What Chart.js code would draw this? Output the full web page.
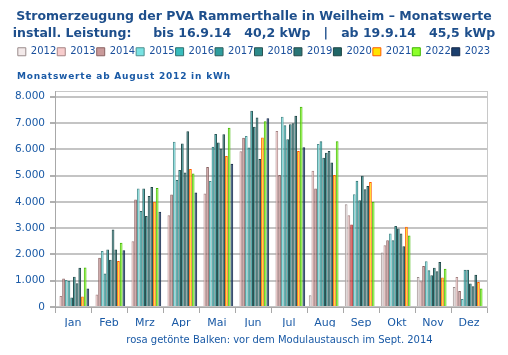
<!DOCTYPE html>
<html><head><meta charset="utf-8">
<script src="https://cdn.jsdelivr.net/npm/chart.js@4"></script>
<style>html,body{margin:0;padding:0;background:#fff;}</style>
</head><body>
<canvas id="c" width="508" height="355"></canvas>
<script>
const months = ['Jan','Feb','Mrz','Apr','Mai','Jun','Jul','Aug','Sep','Okt','Nov','Dez'];
const years = ['2012','2013','2014','2015','2016','2017','2018','2019','2020','2021','2022','2023'];
const v2012 = [null,null,null,null,null,null,null,450,3910,2070,1140,760];
const v2013 = [420,480,2500,3490,4320,5930,6700,5180,3490,2350,980,1140];
const v2014 = [1080,1870,4090,4280,5330,6440,5020,4510,3140,2540,1560,610];
const v2015 = [1030,2130,4510,6290,4790,6510,7240,6200,4290,2800,1740,300];
const v2016 = [1000,1270,3650,4830,6100,6070,6920,6310,4800,2540,1400,1420];
const v2017 = [360,2190,4510,5210,6580,7470,6380,5680,4060,3080,1210,1420];
const v2018 = [1150,1800,3460,6220,6260,6860,6950,5870,4990,2990,1490,890];
const v2019 = [900,2950,4220,5120,6030,7210,6990,5940,4480,2800,1360,790];
const v2020 = [1490,2190,4570,6690,6570,5630,7280,5500,4600,2310,1710,1230];
const v2021 = [400,1750,4000,5250,5750,6450,5940,5020,4760,3050,1120,950];
const v2022 = [1500,2440,4530,5080,6820,7070,7620,6310,4000,2720,1460,700];
const v2023 = [700,2160,3620,4360,5450,7180,6080,null,null,null,null,null];
const seriesValues = [v2012,v2013,v2014,v2015,v2016,v2017,v2018,v2019,v2020,v2021,v2022,v2023];
const yTickValues = [0,1000,2000,3000,4000,5000,6000,7000,8000];

const titleLines = ['Stromerzeugung der PVA Rammerthalle in Weilheim \u2013 Monatswerte',
  'install. Leistung:\u00a0\u00a0\u00a0\u00a0\u00a0bis 16.9.14\u00a0\u00a0\u00a040,2 kWp\u00a0\u00a0\u00a0|\u00a0\u00a0\u00a0ab 19.9.14\u00a0\u00a0\u00a045,5 kWp'];
const subtitleText = 'Monatswerte ab August 2012 in kWh';
const noteText = 'rosa get\u00f6nte Balken: vor dem Modulaustausch im Sept. 2014';

const fills = ['#f3eaea','#f7cccc','#c99a9a','#78e2e2','#38bcbc','#2f9d9d','#2d8a8a','#2a7676','#206666','#ffe400','#8cff2a','#1b3f6e'];
const borders = ['#9a8c8c','#a68484','#8a6262','#4f8f8f','#2f6f6f','#2d5c5c','#2a5252','#264a4a','#1d4444','#ff5a00','#3fb400','#15294a'];
const exchangeMonth = 8; // Sept 2014 bar (module exchange)

const BLUE = '#1a5aa6';
const TITLE_BLUE = '#1e4f8c';

function fmt(v){
  if (v >= 1000) return Math.floor(v/1000) + '.' + String(v % 1000).padStart(3,'0');
  return String(v);
}

const datasets = years.map((y, i) => {
  let bg = fills[i], bd = borders[i];
  if (y === '2014') {
    bg = months.map((m, k) => k === exchangeMonth ? '#e04848' : fills[i]);
    bd = months.map((m, k) => k === exchangeMonth ? '#a83030' : borders[i]);
  }
  return {
    label: y, data: seriesValues[i],
    backgroundColor: bg, borderColor: bd, borderWidth: 1,
    categoryPercentage: 0.9, barPercentage: 1.0
  };
});

const textPlugin = {
  id: 'texts',
  afterDraw(chart){
    const ctx = chart.ctx;
    ctx.save();
    ctx.fillStyle = BLUE;
    ctx.textBaseline = 'middle';
    ctx.textAlign = 'left';
    ctx.font = 'bold 9px "DejaVu Sans"';
    try { ctx.letterSpacing = '0.8px'; } catch(e) {}
    ctx.fillText(subtitleText, 17, 77);
    try { ctx.letterSpacing = '0px'; } catch(e) {}
    ctx.font = '10px "DejaVu Sans"';
    ctx.textAlign = 'center';
    ctx.fillText(noteText, 279.5, 340);
    ctx.restore();
  }
};

Chart.defaults.font.family = '"DejaVu Sans"';
new Chart(document.getElementById('c'), {
  type: 'bar',
  data: { labels: months, datasets },
  options: {
    responsive: false, animation: false, devicePixelRatio: 1,
    layout: { padding: { left: 0, right: 0, top: 0, bottom: 28 } },
    plugins: {
      title: { display: true, text: titleLines, color: TITLE_BLUE,
        font: { size: 12.5, weight: 'bold', lineHeight: 1.35 }, padding: { top: 8, bottom: 4 } },
      legend: { display: true, position: 'top',
        labels: { boxWidth: 8, boxHeight: 8, padding: 1, color: '#1a4f9c', font: { size: 10 } } },
      tooltip: { enabled: false }
    },
    scales: {
      x: {
        type: 'category', position: 'bottom',
        grid: { display: true, drawOnChartArea: false, offset: true, tickLength: 6, color: '#a8a8a8' },
        border: { display: true, color: '#a8a8a8' },
        ticks: { color: BLUE, font: { size: 11 }, padding: 4, maxRotation: 0 },
        afterFit: s => { s.height = 20; }
      },
      x2: {
        type: 'category', position: 'top', axis: 'x',
        grid: { display: false }, ticks: { display: false },
        border: { display: true, color: '#c8c8c8' },
        afterFit: s => { s.height = 25; }
      },
      y: {
        type: 'linear', position: 'left', min: 0, max: 8190,
        afterBuildTicks: s => { s.ticks = yTickValues.map(v => ({ value: v })); },
        ticks: { color: BLUE, font: { size: 10.5 }, padding: 5, callback: v => fmt(v) },
        grid: { color: '#c4c4c4', lineWidth: 2, tickLength: 5, tickColor: '#b0b0b0' },
        border: { display: true, color: '#a8a8a8' },
        afterFit: s => { s.width = 55; }
      },
      y2: {
        type: 'linear', position: 'right',
        grid: { display: false }, ticks: { display: false },
        border: { display: true, color: '#c8c8c8' },
        afterFit: s => { s.width = 21; }
      }
    }
  },
  plugins: [textPlugin]
});
</script>
</body></html>
